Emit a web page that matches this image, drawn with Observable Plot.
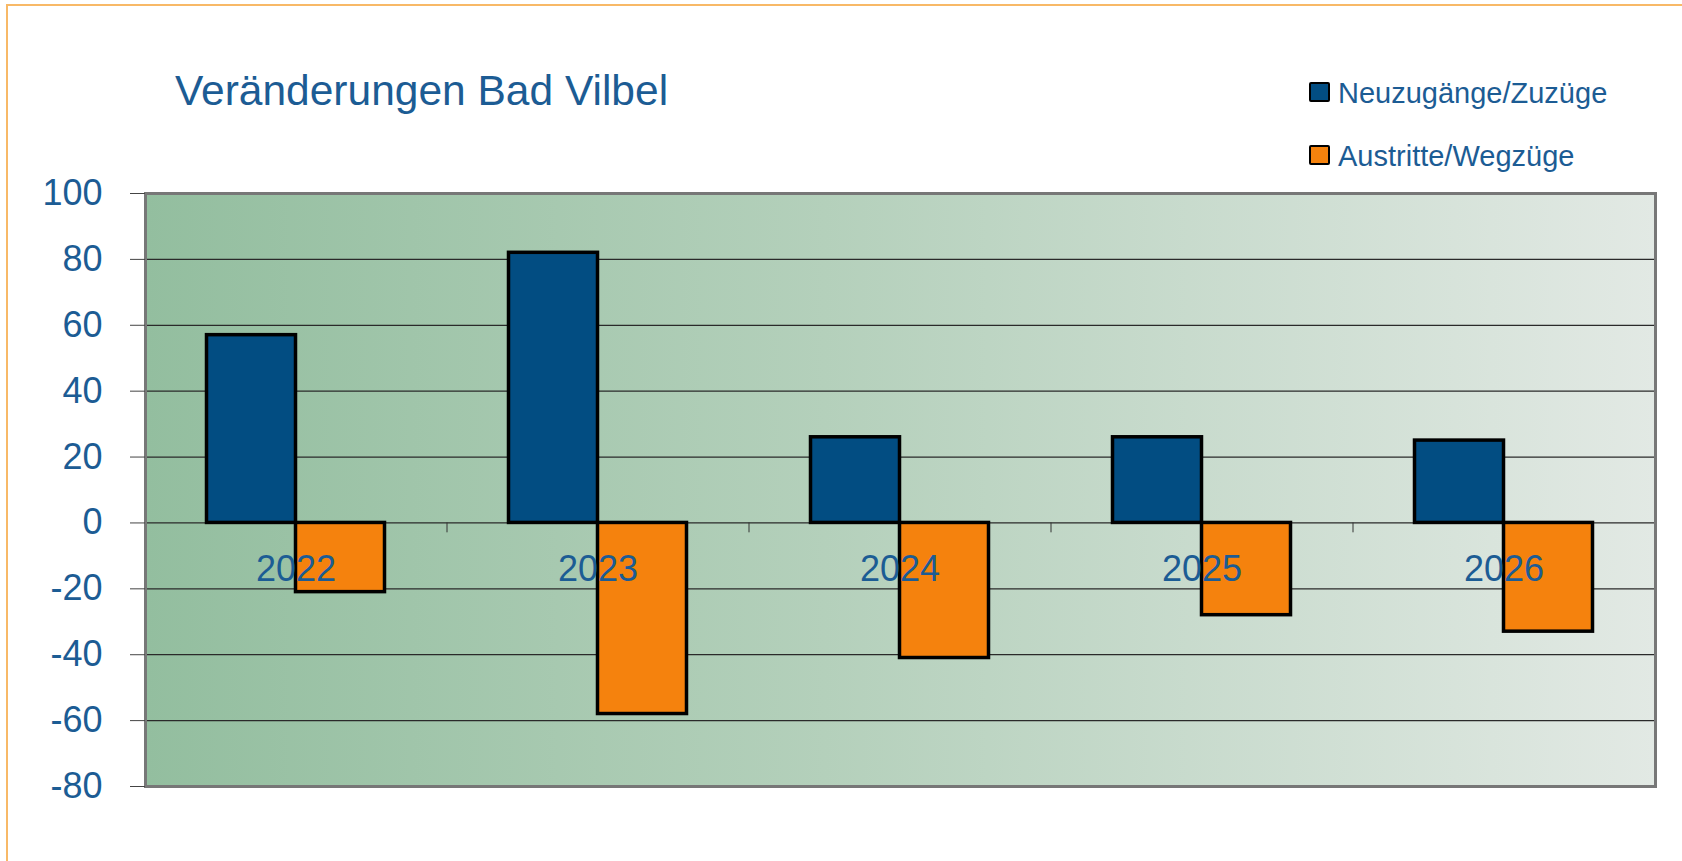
<!DOCTYPE html>
<html>
<head>
<meta charset="utf-8">
<script src="https://cdn.jsdelivr.net/npm/d3@7"></script>
<script src="https://cdn.jsdelivr.net/npm/@observablehq/plot@0.6"></script>
<style>
  html, body { margin: 0; padding: 0; background: #fff; overflow: hidden; }
  #wrap { position: relative; width: 1682px; height: 861px; font-family: "Liberation Sans", Arial, sans-serif; }
  #header { position: relative; width: 1682px; height: 170px; }
  #title { position: absolute; left: 175px; top: 70px; font-size: 42.5px; line-height: 42px; color: #1C5C94; white-space: nowrap; }
  .leg { position: absolute; left: 1309px; font-size: 29px; line-height: 29px; color: #1C5C94; white-space: nowrap; display: flex; align-items: flex-start; }
  .sw { width: 17px; height: 16px; border: 2px solid #000; border-radius: 2px; margin-top: 3px; margin-right: 8px; }
  .bt { position: absolute; background: #F8B967; }
</style>
</head>
<body>
<div id="wrap">
  <div class="bt" style="left:6px; top:4px; width:1676px; height:2px;"></div>
  <div class="bt" style="left:6px; top:4px; width:2px; height:857px;"></div>
  <div id="header">
    <div id="title">Veränderungen Bad Vilbel</div>
    <div id="legend"></div>
  </div>
  <div id="chart"></div>
</div>
<script>
const years = ["2022", "2023", "2024", "2025", "2026"];
const zugaenge = [57, 82, 26, 26, 25];      // Neuzugänge/Zuzüge
const abgaenge = [-21, -58, -41, -28, -33]; // Austritte/Wegzüge
const seriesNames = ["Neuzugänge/Zuzüge", "Austritte/Wegzüge"];
const seriesColors = ["#024D82", "#F5820D"];
const yTicks = [-80, -60, -40, -20, 0, 20, 40, 60, 80, 100];

const textColor = "#1C5C94";

// legend (HTML)
const legend = document.getElementById("legend");
seriesNames.forEach((name, i) => {
  const row = document.createElement("div");
  row.className = "leg";
  row.style.top = (i === 0 ? 79 : 142) + "px";
  const sw = document.createElement("div");
  sw.className = "sw";
  sw.style.background = seriesColors[i];
  const t = document.createElement("span");
  t.textContent = name;
  row.appendChild(sw);
  row.appendChild(t);
  legend.appendChild(row);
});

const rowsZu = years.map((y, i) => ({year: y, value: zugaenge[i]}));
const rowsAb = years.map((y, i) => ({year: y, value: abgaenge[i]}));

const background = (index, scales, values, dims) => {
  const g = d3.create("svg:g");
  const grad = g.append("defs").append("linearGradient")
    .attr("id", "bgGrad").attr("x1", 0).attr("x2", 1).attr("y1", 0).attr("y2", 0);
  grad.append("stop").attr("offset", 0).attr("stop-color", "#93BE9F");
  grad.append("stop").attr("offset", 0.45).attr("stop-color", "#B4D0BB");
  grad.append("stop").attr("offset", 1).attr("stop-color", "#E2E9E4");
  g.append("rect")
    .attr("x", dims.marginLeft)
    .attr("y", dims.marginTop)
    .attr("width", dims.width - dims.marginLeft - dims.marginRight)
    .attr("height", dims.height - dims.marginTop - dims.marginBottom)
    .attr("fill", "url(#bgGrad)");
  return g.node();
};

const halfBar = 44.5;
const halfStep = 151;

const chart = Plot.plot({
  width: 1682,
  height: 691,
  marginTop: 23,
  marginBottom: 75,
  marginLeft: 145,
  marginRight: 27,
  style: {
    background: "transparent",
    fontFamily: "Liberation Sans, Arial, sans-serif",
    color: textColor,
    overflow: "visible"
  },
  x: {domain: years, paddingInner: 0.705, paddingOuter: 0.3525, axis: null},
  y: {domain: [-80, 100], axis: null},
  marks: [
    background,
    Plot.gridY(yTicks, {stroke: "#2A2A2A", strokeOpacity: 1, strokeWidth: 1.2}),
    Plot.barY(rowsZu, {x: "year", y: "value", fill: seriesColors[0], stroke: "#000", strokeWidth: 3.5, dx: -halfBar}),
    Plot.barY(rowsAb, {x: "year", y: "value", fill: seriesColors[1], stroke: "#000", strokeWidth: 3.5, dx: halfBar}),
    Plot.ruleX(years.slice(0, 4), {x: d => d, y1: 0, y2: -3, dx: halfStep, stroke: "#333", strokeWidth: 1}),
    Plot.frame({stroke: "#777", strokeWidth: 3}),
    Plot.text(years, {x: d => d, y: 0, dy: 47, text: d => d, fontSize: 36, fill: textColor}),
    Plot.axisY({ticks: yTicks, tickSize: 15, tickPadding: 28, fontSize: 36, fill: textColor, stroke: "#444", label: null, tickFormat: d => String(d)})
  ]
});
document.getElementById("chart").appendChild(chart);
</script>
</body>
</html>
